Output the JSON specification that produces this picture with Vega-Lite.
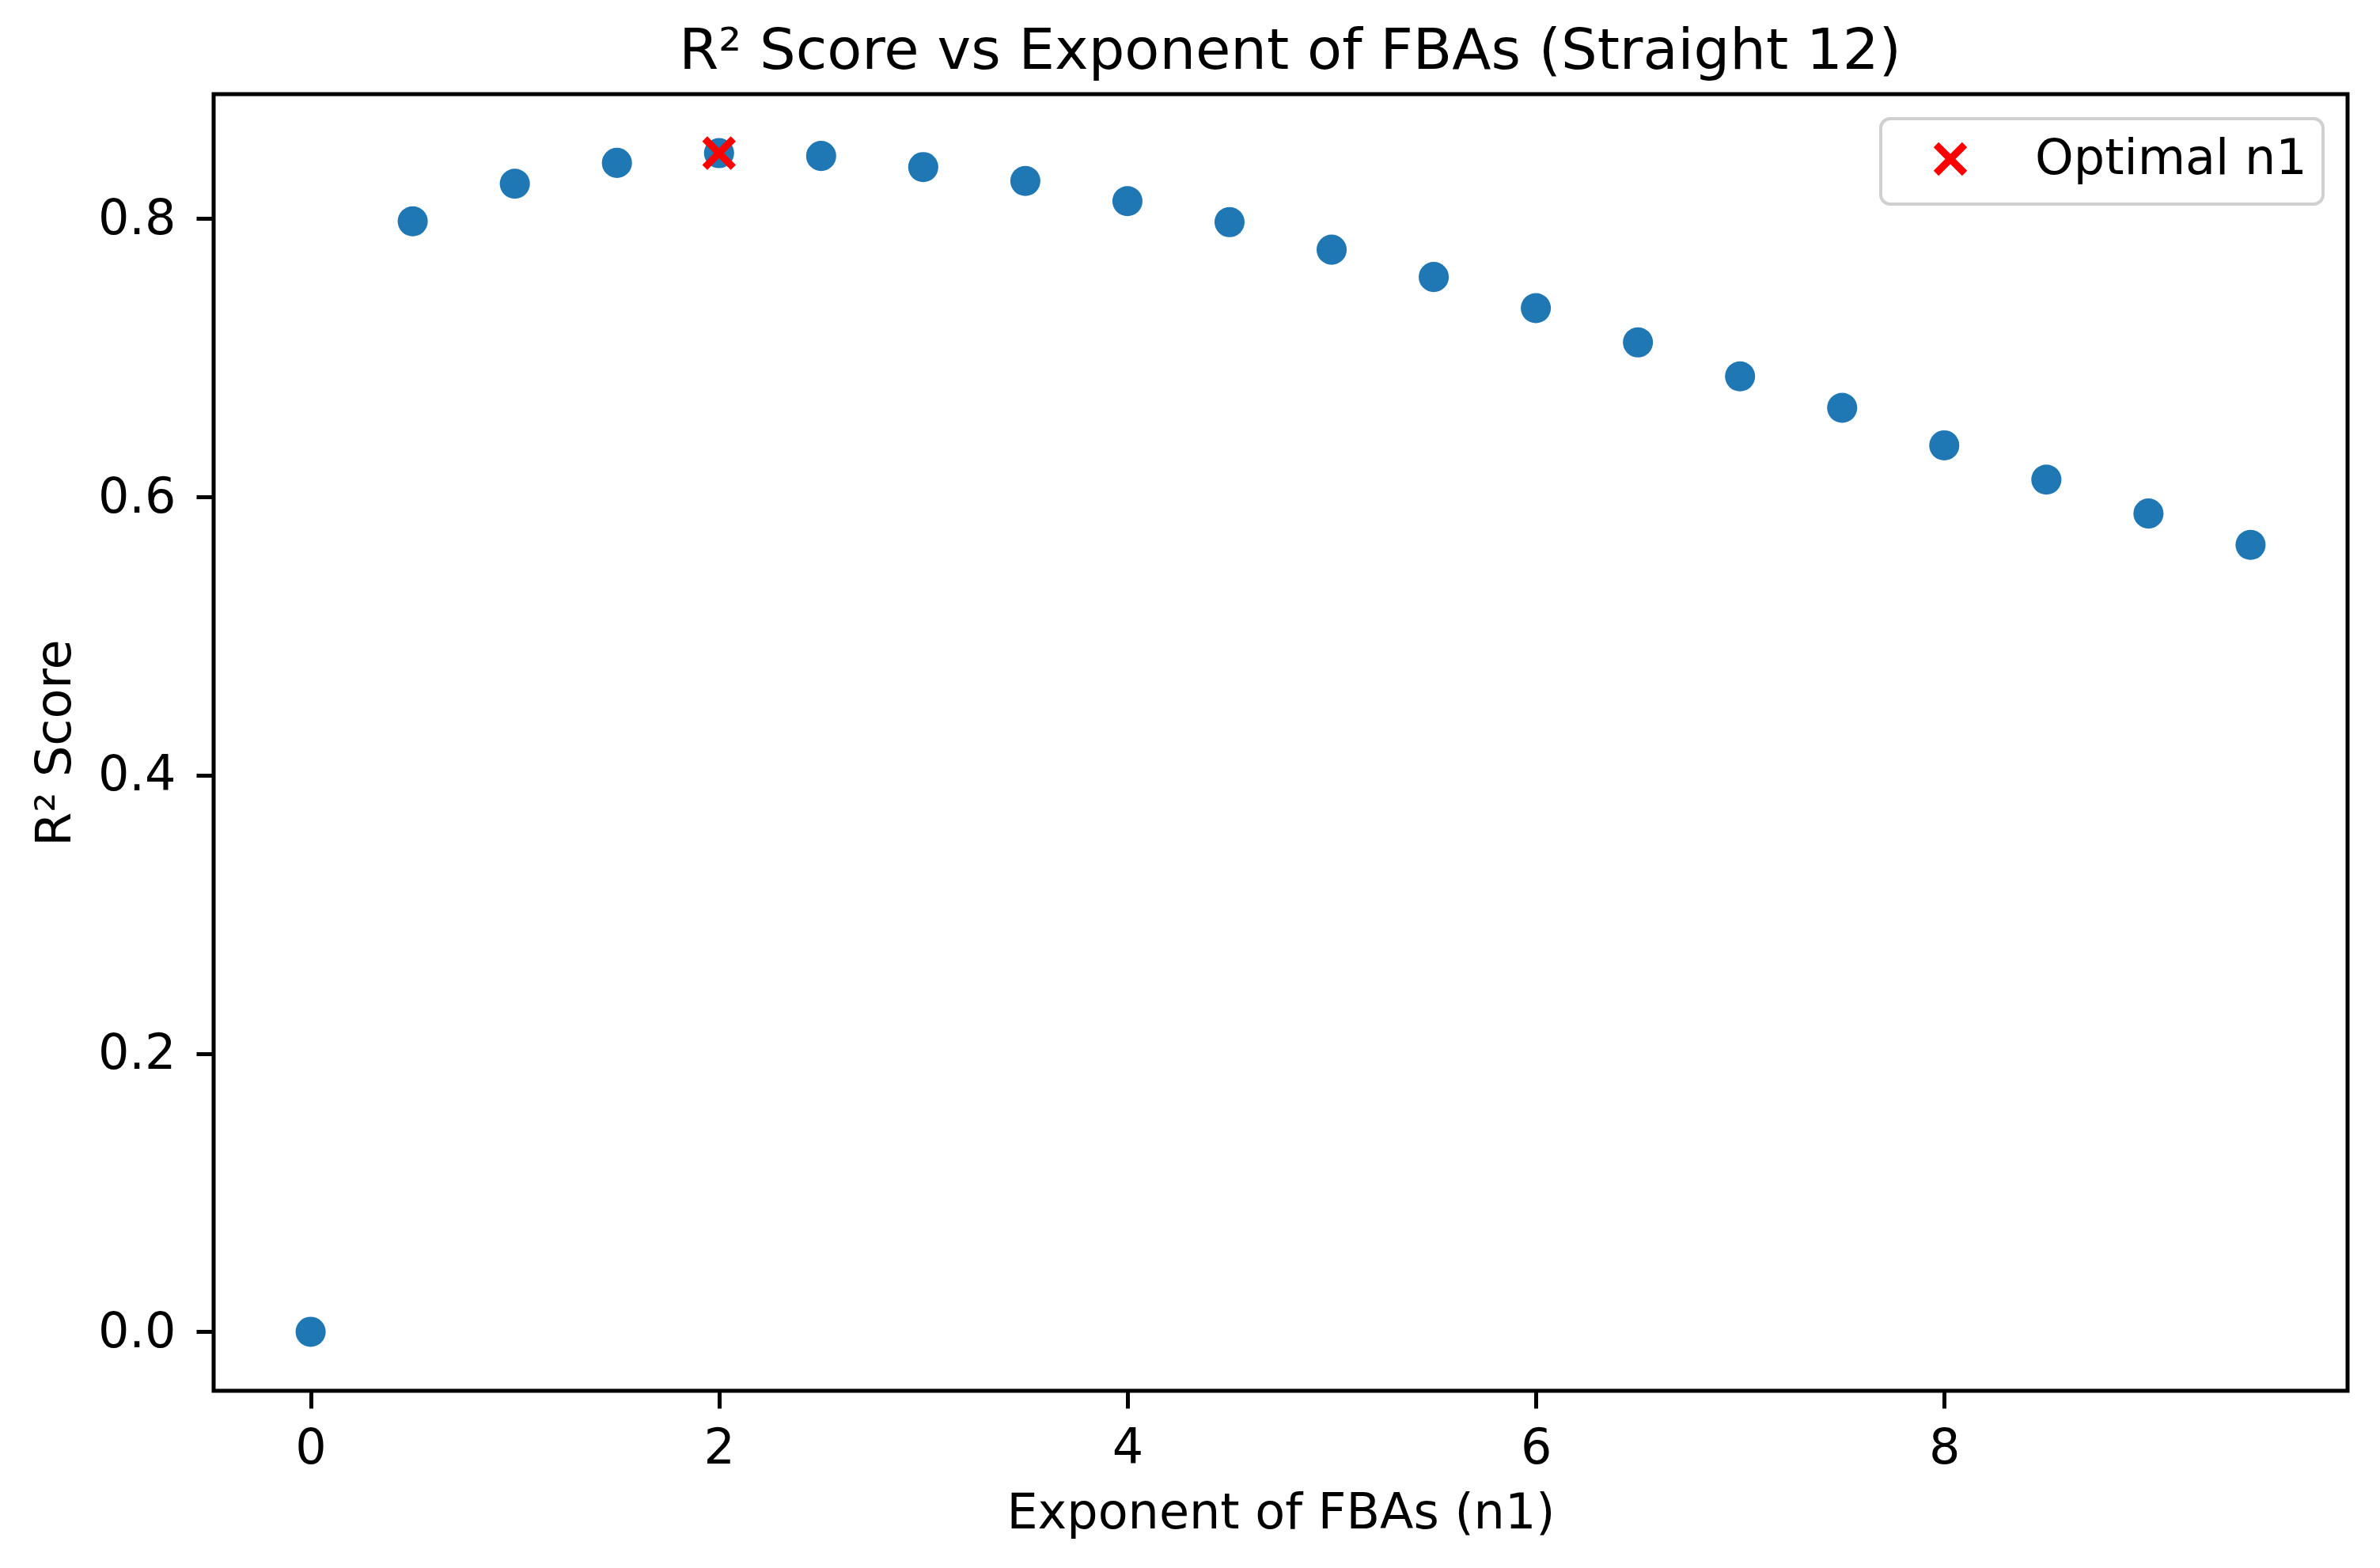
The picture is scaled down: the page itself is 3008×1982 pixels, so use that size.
{
  "$schema": "https://vega.github.io/schema/vega-lite/v6.json",
  "description": "R2 score against the exponent of FBAs, with the optimal n1 marked.",
  "width": 2697,
  "height": 1639,
  "autosize": {"type": "none"},
  "padding": {"left": 270, "top": 119, "right": 41, "bottom": 224},
  "background": "white",
  "config": {
    "font": "DejaVu Sans",
    "view": {"stroke": "black", "strokeWidth": 5},
    "axis": {
      "grid": false,
      "domain": false,
      "tickColor": "black",
      "tickSize": 22,
      "tickWidth": 5,
      "labelFont": "DejaVu Sans",
      "labelFontSize": 62,
      "labelColor": "black",
      "titleFont": "DejaVu Sans",
      "titleFontSize": 62,
      "titleFontWeight": "normal",
      "titleColor": "black"
    },
    "legend": {
      "orient": "top-right",
      "offset": 31,
      "padding": 20,
      "fillColor": "white",
      "strokeColor": "#d0d0d0",
      "strokeWidth": 4,
      "cornerRadius": 12,
      "labelFont": "DejaVu Sans",
      "labelFontSize": 62,
      "labelColor": "black",
      "labelLimit": 1000,
      "labelOffset": 76,
      "symbolOffset": 37
    }
  },
  "title": {
    "text": "R² Score vs Exponent of FBAs (Straight 12)",
    "font": "DejaVu Sans",
    "fontSize": 72,
    "fontWeight": "normal",
    "color": "black",
    "anchor": "middle",
    "baseline": "alphabetic",
    "offset": -40,
    "dx": 12
  },
  "data": {
    "values": [
      {"n1": 0.0, "r2": 0.0},
      {"n1": 0.5, "r2": 0.798},
      {"n1": 1.0, "r2": 0.825},
      {"n1": 1.5, "r2": 0.840},
      {"n1": 2.0, "r2": 0.847},
      {"n1": 2.5, "r2": 0.845},
      {"n1": 3.0, "r2": 0.837},
      {"n1": 3.5, "r2": 0.827},
      {"n1": 4.0, "r2": 0.8125},
      {"n1": 4.5, "r2": 0.7974},
      {"n1": 5.0, "r2": 0.7776},
      {"n1": 5.5, "r2": 0.758},
      {"n1": 6.0, "r2": 0.7356},
      {"n1": 6.5, "r2": 0.711},
      {"n1": 7.0, "r2": 0.6866},
      {"n1": 7.5, "r2": 0.664},
      {"n1": 8.0, "r2": 0.637},
      {"n1": 8.5, "r2": 0.6124},
      {"n1": 9.0, "r2": 0.588},
      {"n1": 9.5, "r2": 0.5655}
    ]
  },
  "layer": [
    {
      "mark": {"type": "circle", "color": "#1f77b4", "opacity": 1, "size": 1450},
      "encoding": {
        "x": {
          "field": "n1",
          "type": "quantitative",
          "scale": {"domain": [-0.475, 9.975], "nice": false, "zero": false},
          "axis": {
            "title": "Exponent of FBAs (n1)",
            "values": [0, 2, 4, 6, 8],
            "format": "d",
            "labelPadding": 20,
            "titlePadding": 21
          }
        },
        "y": {
          "field": "r2",
          "type": "quantitative",
          "scale": {"domain": [-0.0424, 0.8894], "nice": false, "zero": false},
          "axis": {
            "title": "R² Score",
            "values": [0, 0.2, 0.4, 0.6, 0.8],
            "format": ".1f",
            "labelPadding": 26,
            "titlePadding": 22
          }
        }
      }
    },
    {
      "data": {"values": [{"n1": 2.0, "r2": 0.847}]},
      "mark": {
        "type": "point",
        "shape": "M-1,-1L1,1M-1,1L1,-1",
        "filled": false,
        "opacity": 1,
        "size": 1300,
        "strokeWidth": 9
      },
      "encoding": {
        "x": {"field": "n1", "type": "quantitative"},
        "y": {"field": "r2", "type": "quantitative"},
        "color": {
          "datum": "Optimal n1",
          "type": "nominal",
          "scale": {"range": ["red"]},
          "legend": {
            "title": null,
            "symbolType": "M-1,-1L1,1M-1,1L1,-1",
            "symbolSize": 1300,
            "symbolStrokeWidth": 9,
            "symbolStrokeColor": "red",
            "symbolFillColor": "transparent"
          }
        }
      }
    }
  ]
}
